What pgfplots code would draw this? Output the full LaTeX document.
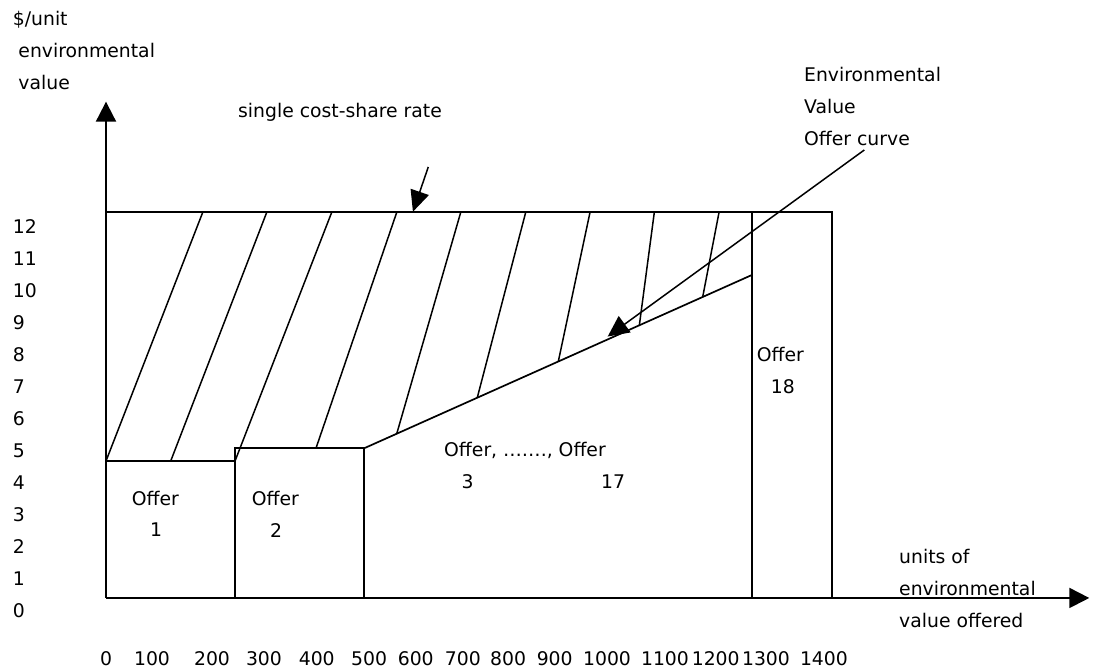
\documentclass[border=0pt]{standalone}
\usepackage{fontspec}
\setmainfont{DejaVu Sans}
\usepackage{pgfplots}
\pgfplotsset{compat=1.18}
\usetikzlibrary{arrows.meta}

\begin{document}
\begin{tikzpicture}[font=\fontsize{18.8bp}{32bp}\selectfont]
\begin{axis}[
  scale only axis,
  width=983.3bp, height=496.3bp,
  xmin=0, xmax=1917.4, ymin=0, ymax=15.51,
  axis lines=left,
  axis line style={line width=2bp, -{Triangle[length=20bp,width=20bp]}},
  major tick length=0pt,
  xtick={0,89.7,206.7,308,411,513,604,696,784,875,977,1090,1189,1287,1400},
  xticklabels={0,100,200,300,400,500,600,700,800,900,1000,1100,1200,1300,1400},
  ytick={0,1,2,3,4,5,6,7,8,9,10,11,12},
  /pgf/number format/assume math mode=true,
  xticklabel style={anchor=center, yshift=-60.5bp, inner sep=0pt},
  yticklabel style={anchor=west, xshift=-93.3bp, yshift=-13bp, inner sep=0pt},
  % multi-line nodes: base anchor sits on the last line
  every axis y label/.style={at={(rel axis cs:-0.0949,1.0255)}, anchor=base west, align=left, inner sep=0pt},
  ylabel={\$/unit\\\hspace*{5.6bp}environmental\\\hspace*{5.6bp}value},
  every axis x label/.style={at={(rel axis cs:0.8065,-0.0604)}, anchor=base west, align=left, inner sep=0pt},
  xlabel={units of\\environmental\\value offered},
  clip=false,
]
% invisible frame: page size
\draw[draw=none] (axis cs:-206.7,-2.281) rectangle (axis cs:1930.5,18.6875);

% boxes and the cost-share line
\addplot[line width=2bp, black] coordinates {(0,12.05) (1416,12.05) (1416,0)};
\addplot[line width=2bp, black] coordinates {(0,4.28) (251.6,4.28) (251.6,0)};
\addplot[line width=2bp, black] coordinates {(251.6,4.28) (251.6,4.68) (503.7,4.68) (503.7,0)};
\addplot[line width=2bp, black] coordinates {(1259,0) (1259,12.05)};
% offer curve
\addplot[line width=1.7bp, black] coordinates {(503.7,4.68) (1259,10.09)};

% hatching
\addplot[line width=1.5bp, black] coordinates {(0,4.28) (188.6,12.05)};
\addplot[line width=1.5bp, black] coordinates {(126.2,4.28) (313.4,12.05)};
\addplot[line width=1.5bp, black] coordinates {(251.6,4.28) (440.1,12.05)};
\addplot[line width=1.5bp, black] coordinates {(409.5,4.68) (566.9,12.05)};
\addplot[line width=1.5bp, black] coordinates {(566.9,5.13) (691.7,12.05)};
\addplot[line width=1.5bp, black] coordinates {(724,6.26) (818.4,12.05)};
\addplot[line width=1.5bp, black] coordinates {(882,7.39) (943.8,12.05)};
\addplot[line width=1.5bp, black] coordinates {(1040,8.52) (1069.2,12.05)};
\addplot[line width=1.5bp, black] coordinates {(1163.6,9.41) (1195.4,12.05)};

% pointer arrows
\addplot[line width=1.5bp, black, -{Triangle[length=21bp,width=19bp]}] coordinates {(628.5,13.47) (598.5,12.07)};
\addplot[line width=1.5bp, black, -{Triangle[length=21bp,width=20bp]}] coordinates {(1478.7,14) (978.3,8.17)};

% annotations
\node[anchor=base west, inner sep=0pt] at (axis cs:257.4,15) {single cost-share rate};
\node[anchor=base west, inner sep=0pt, align=left] at (axis cs:1361,14.125) {Environmental\\Value\\Offer curve};
\node[anchor=base west, inner sep=0pt] at (axis cs:50.1,2.875) {Offer};
\node[anchor=base, inner sep=0pt] at (axis cs:97.5,1.92) {1};
\node[anchor=base west, inner sep=0pt] at (axis cs:284.1,2.875) {Offer};
\node[anchor=base, inner sep=0pt] at (axis cs:331.5,1.90) {2};
\node[anchor=base west, inner sep=0pt] at (axis cs:659.1,4.41) {Offer, …….,~Offer};
\node[anchor=base, inner sep=0pt] at (axis cs:705.3,3.41) {3};
\node[anchor=base, inner sep=0pt] at (axis cs:988.7,3.41) {17};
\node[anchor=base west, inner sep=0pt] at (axis cs:1268.9,7.375) {Offer};
\node[anchor=base, inner sep=0pt] at (axis cs:1320,6.4) {18};
\end{axis}
\end{tikzpicture}
\end{document}
